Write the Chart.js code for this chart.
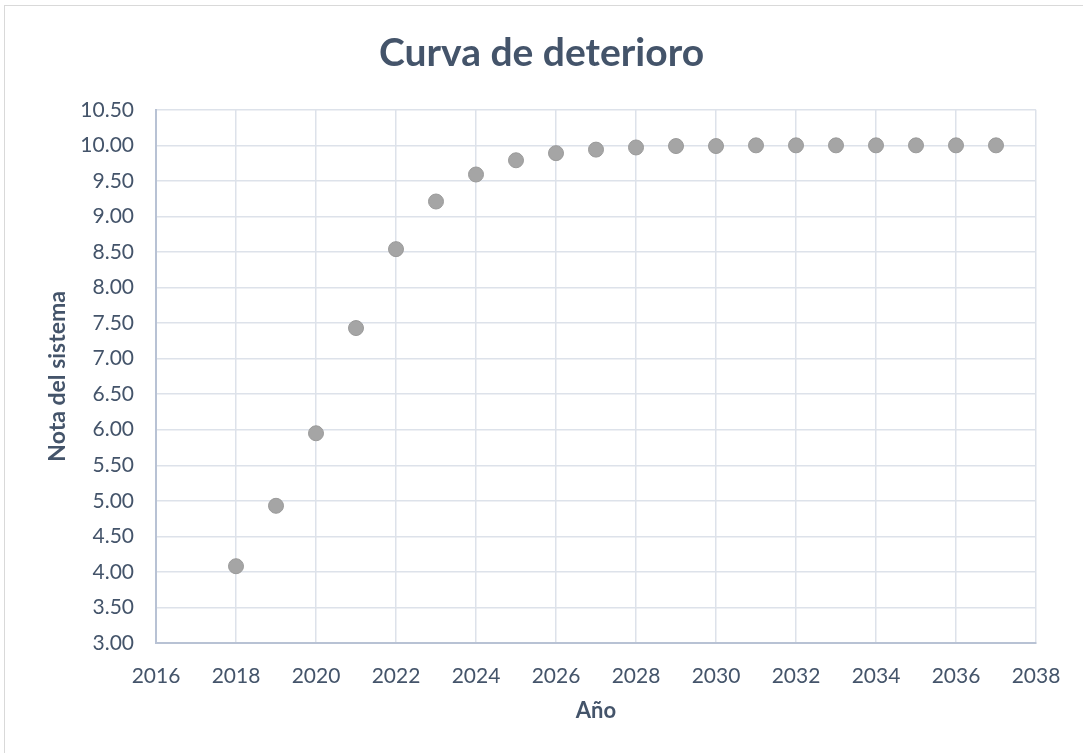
<!DOCTYPE html>
<html>
<head>
<meta charset="utf-8">
<script src="https://cdn.jsdelivr.net/npm/chart.js@4"></script>
<style>
    html, body { margin: 0; padding: 0; background: #fff; }
    #wrap { position: relative; width: 1083px; height: 753px; }
    #frame { position: absolute; left: 4px; top: 5px; right: -10px; bottom: -10px; border-top: 1px solid #d9d9d9; border-left: 1px solid #d9d9d9; }
    canvas { position: absolute; left: 0; top: 0; }
</style>
</head>
<body>
<div id="wrap">
    <div id="frame"></div>
    <canvas id="chart-deterioro" width="1083" height="753"></canvas>
</div>
<script>
// Curva de deterioro — nota del sistema por año

const years = [2018, 2019, 2020, 2021, 2022, 2023, 2024, 2025, 2026, 2027,
               2028, 2029, 2030, 2031, 2032, 2033, 2034, 2035, 2036, 2037];
const notas = [4.08, 4.93, 5.95, 7.43, 8.54, 9.21, 9.59, 9.79, 9.89, 9.94,
               9.97, 9.99, 9.99, 10.00, 10.00, 10.00, 10.00, 10.00, 10.00, 10.00];

const xMin = 2016, xMax = 2038, xStep = 2;
const yMin = 3, yMax = 10.5, yStep = 0.5;

const textColor = '#44546a';
const fontFam = 'Lato, "Open Sans", sans-serif';

const points = years.map((y, i) => ({ x: y, y: notas[i] }));

const ctx = document.getElementById('chart-deterioro').getContext('2d');
new Chart(ctx, {
    type: 'scatter',
    data: {
        datasets: [{
            label: 'Nota',
            data: points,
            backgroundColor: '#a5a5a5',
            borderColor: '#9a9a9a',
            borderWidth: 1,
            pointRadius: 7.5,
            pointHoverRadius: 7.5
        }]
    },
    options: {
        responsive: false,
        animation: false,
        layout: { padding: 0 },
        plugins: {
            legend: { display: false },
            tooltip: { enabled: false },
            title: {
                display: true,
                text: 'Curva de deterioro',
                color: textColor,
                font: { family: fontFam, size: 39, weight: 'bold' },
                padding: { top: 30, bottom: 33 }
            }
        },
        scales: {
            x: {
                type: 'linear',
                min: xMin,
                max: xMax,
                afterFit: s => { s.height = 110; },
                ticks: {
                    stepSize: xStep,
                    color: textColor,
                    font: { family: fontFam, size: 21 },
                    padding: 21,
                    callback: v => String(v)
                },
                grid: { color: '#dde2ea', lineWidth: 1.5, drawTicks: false },
                border: { color: '#b8c2d4', width: 2 },
                title: {
                    display: true,
                    text: 'Año',
                    color: textColor,
                    font: { family: fontFam, size: 22, weight: 'bold' },
                    padding: { top: 0, bottom: 29 }
                }
            },
            y: {
                min: yMin,
                max: yMax,
                afterFit: s => { s.width = 156; },
                ticks: {
                    stepSize: yStep,
                    color: textColor,
                    font: { family: fontFam, size: 21 },
                    padding: 22,
                    callback: v => v.toFixed(2)
                },
                grid: { color: '#dde2ea', lineWidth: 1.5, drawTicks: false },
                border: { color: '#b8c2d4', width: 2 },
                title: {
                    display: true,
                    text: 'Nota del sistema',
                    color: textColor,
                    font: { family: fontFam, size: 23, weight: 'bold' },
                    padding: { top: 44, bottom: 0 }
                }
            },
            // empty right margin so the title centres on the whole canvas
            yRight: {
                position: 'right',
                afterFit: s => { s.width = 47; },
                ticks: { display: false },
                grid: { display: false, drawTicks: false },
                border: { display: false }
            }
        }
    }
});
</script>
</body>
</html>
